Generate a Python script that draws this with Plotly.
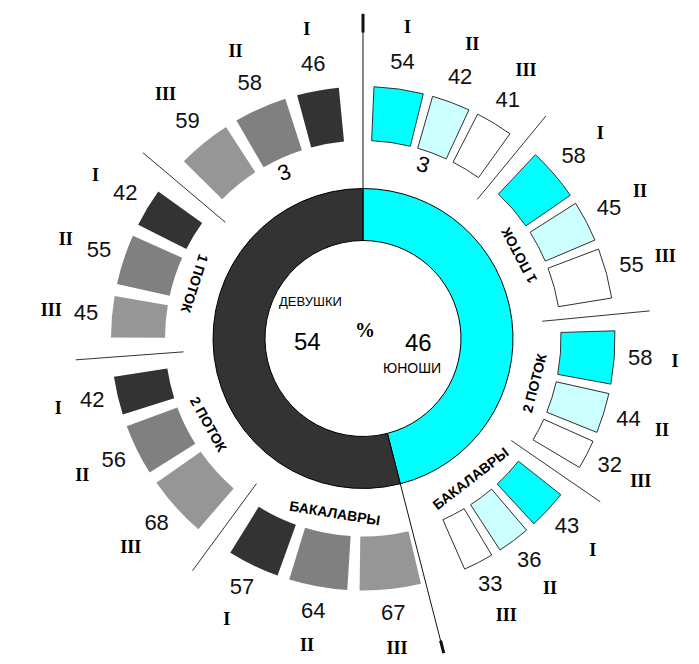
import math
import plotly.graph_objects as go

# ---------------- data ----------------
share_labels = ["ЮНОШИ", "ДЕВУШКИ"]
share_values = [46, 54]
group_labels = ["3", "1 ПОТОК", "2 ПОТОК", "БАКАЛАВРЫ"]
level_labels = ["I", "II", "III"]
boys_values = [[54, 42, 41], [58, 45, 55], [58, 44, 32], [43, 36, 33]]
girls_values = [[46, 58, 59], [42, 55, 45], [42, 56, 68], [57, 64, 67]]

# ---------------- styles ----------------
ring_colors = ["#00FFFF", "#333333"]
boys_colors = ["#00FFFF", "#CCFFFF", "#FFFFFF"]
girls_colors = ["#333333", "#808080", "#969696"]

W, H = 699, 664
OFF = 8                      # page body margin
CX, CY = 363 - OFF, 338.5 - OFF
RMAX = 325                   # radial units == px
RING_IN, RING_OUT = 98, 150
BLK_IN, BLK_OUT = 198, 252
R_VAL, R_ROM = 278, 313
R_GRP = 177
DEG_PER_PCT = 0.21


def layout_side(values, start, sign, g_in, g_grp):
    thetas, widths, centers, seps = [], [], [], []
    cur = start
    for gi, grp in enumerate(values):
        if gi > 0:
            seps.append(cur + sign * g_grp / 2)
            cur += sign * g_grp
        gstart = cur
        for li, v in enumerate(grp):
            if li > 0:
                cur += sign * g_in
            w = v * DEG_PER_PCT
            thetas.append(cur + sign * w / 2)
            widths.append(w)
            cur += sign * w
        centers.append((gstart + cur) / 2)
    return thetas, widths, centers, seps


b_th, b_w, b_c, b_sep = layout_side(boys_values, 2.5, 1, 2.2, 7.5)
g_th, g_w, g_c, g_sep = layout_side(girls_values, 354.5, -1, 2.8, 9.0)

flat_b = [v for grp in boys_values for v in grp]
flat_g = [v for grp in girls_values for v in grp]
lvl = [level_labels[i % 3] for i in range(12)]

fig = go.Figure()

# central ring
total = sum(share_values)
split = share_values[0] / total * 360
fig.add_trace(go.Barpolar(
    r=[RING_OUT - RING_IN] * 2, base=[RING_IN] * 2,
    theta=[split / 2, split + (360 - split) / 2], width=[split, 360 - split],
    marker=dict(color=ring_colors, line=dict(color="black", width=1)),
    hoverinfo="skip", showlegend=False))

# outer blocks
fig.add_trace(go.Barpolar(
    r=[BLK_OUT - BLK_IN] * 12, base=[BLK_IN] * 12, theta=b_th, width=b_w,
    marker=dict(color=[boys_colors[i % 3] for i in range(12)],
                line=dict(color="#303030", width=1)),
    hoverinfo="skip", showlegend=False))
fig.add_trace(go.Barpolar(
    r=[BLK_OUT - BLK_IN] * 12, base=[BLK_IN] * 12, theta=g_th, width=g_w,
    marker=dict(color=[girls_colors[i % 3] for i in range(12)],
                line=dict(color="rgba(0,0,0,0)", width=0)),
    hoverinfo="skip", showlegend=False))

# lines
def pline(r0, r1, th, w=1, color="#222"):
    fig.add_trace(go.Scatterpolar(r=[r0, r1], theta=[th, th], mode="lines",
                                  line=dict(color=color, width=w),
                                  hoverinfo="skip", showlegend=False))

pline(RING_OUT, RMAX, 0, 1, "#111")
pline(306, RMAX, 0, 3, "#111")
pline(RING_OUT, RMAX, split, 1, "#111")
pline(312, RMAX, split, 3, "#111")
for s in b_sep + g_sep:
    pline(180, 288, s, 1, "#333")

# value labels and numerals
for th, vals in ((b_th, flat_b), (g_th, flat_g)):
    fig.add_trace(go.Scatterpolar(
        r=[R_VAL] * len(th), theta=th, mode="text", text=[str(v) for v in vals],
        textfont=dict(family="Liberation Sans, Arial", size=22, color="#111"),
        hoverinfo="skip", showlegend=False))
    fig.add_trace(go.Scatterpolar(
        r=[R_ROM] * len(th), theta=th, mode="text",
        text=["<b>%s</b>" % s for s in lvl],
        textfont=dict(family="Liberation Serif, Times New Roman", size=18, color="black"),
        hoverinfo="skip", showlegend=False))

annotations = []


def polar_xy(r, th):
    x = CX + r * math.sin(math.radians(th))
    y = CY - r * math.cos(math.radians(th))
    return x / W, 1 - y / H


def norm(a):
    return (a + 180) % 360 - 180


for centers in (b_c, g_c):
    for gi, (lab, th) in enumerate(zip(group_labels, centers)):
        if gi == 0:
            r = 184
            ang = 18 if centers is b_c else -20
            txt = lab
            size = 22
        else:
            r = R_GRP
            ang = norm(th - 180)
            txt = "<b>%s</b>" % lab
            size = 14
        x, y = polar_xy(r, th)
        annotations.append(dict(x=x, y=y, xref="paper", yref="paper", text=txt,
                                showarrow=False, textangle=ang,
                                xanchor="center", yanchor="middle",
                                font=dict(family="Liberation Sans, Arial", size=size,
                                          color="black")))

centre_texts = [
    (share_labels[1], 310, 302, 13, "Liberation Sans, Arial"),
    (str(share_values[1]), 307, 341, 24, "Liberation Sans, Arial"),
    ("<b>%</b>", 365, 330, 20, "Liberation Serif, Times New Roman"),
    (str(share_values[0]), 418, 342, 24, "Liberation Sans, Arial"),
    (share_labels[0], 412, 368, 14, "Liberation Sans, Arial"),
]
for t, px, py, sz, fam in centre_texts:
    annotations.append(dict(x=(px - OFF) / W, y=1 - (py - OFF) / H, xref="paper",
                            yref="paper", text=t,
                            showarrow=False, xanchor="center", yanchor="middle",
                            font=dict(family=fam, size=sz, color="black")))

fig.update_layout(
    width=W, height=H, autosize=False,
    margin=dict(l=0, r=0, t=0, b=0),
    paper_bgcolor="white", plot_bgcolor="white",
    annotations=annotations,
    polar=dict(
        domain=dict(x=[(CX - RMAX) / W, (CX + RMAX) / W],
                    y=[(H - CY - RMAX) / H, (H - CY + RMAX) / H]),
        bgcolor="white", hole=0,
        radialaxis=dict(visible=False, range=[0, RMAX]),
        angularaxis=dict(visible=False, direction="clockwise", rotation=90),
    ),
)

fig.write_html("out.html")
